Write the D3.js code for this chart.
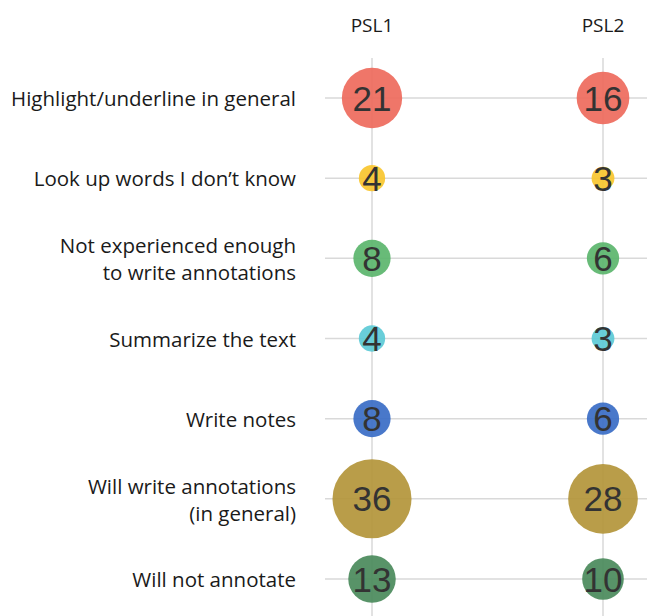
<!DOCTYPE html>
<meta charset="utf-8">
<style>
body { margin: 0; background: #fff; }
.label { font-family: "Open Sans", Lato, sans-serif; font-size: 20.5px; fill: #1a1a1a; }
.head { font-family: "Open Sans", Lato, sans-serif; font-size: 19px; fill: #1a1a1a; }
.num { font-family: "Liberation Sans", Arial, sans-serif; font-size: 35px; fill: #333; }
.grid line { stroke: #d9d9d9; stroke-width: 1.5; }
</style>
<body>
<script src="https://d3js.org/d3.v7.min.js"></script>
<script>

var categories = [
  "Highlight/underline in general",
  "Look up words I don\u2019t know",
  "Not experienced enough\nto write annotations",
  "Summarize the text",
  "Write notes",
  "Will write annotations\n(in general)",
  "Will not annotate"
];
var groups = ["PSL1", "PSL2"];
var psl1 = [21, 4, 8, 4, 8, 36, 13];
var psl2 = [16, 3, 6, 3, 6, 28, 10];
var colors = ["#ee6a5c", "#f8c52e", "#5bb56c", "#5ccad6", "#3a6cc6", "#b3953a", "#4a8a5b"];

var width = 647, height = 616;

var svg = d3.select("body").append("svg")
    .attr("width", width)
    .attr("height", height);

var x = d3.scalePoint()
    .domain(groups)
    .range([372, 603]);

var y = d3.scalePoint()
    .domain(categories)
    .range([98, 579]);

var r = d3.scaleSqrt()
    .domain([0, 36])
    .range([0, 39.5]);

var color = d3.scaleOrdinal()
    .domain(categories)
    .range(colors);

// grid
var grid = svg.append("g").attr("class", "grid");
grid.selectAll(".h")
    .data(categories)
  .enter().append("line")
    .attr("x1", 325).attr("x2", width)
    .attr("y1", function(d) { return y(d); })
    .attr("y2", function(d) { return y(d); });
grid.selectAll(".v")
    .data(groups)
  .enter().append("line")
    .attr("x1", function(d) { return x(d); })
    .attr("x2", function(d) { return x(d); })
    .attr("y1", 58).attr("y2", height);

// headers
svg.selectAll(".head")
    .data(groups)
  .enter().append("text")
    .attr("class", "head")
    .attr("x", function(d) { return x(d); })
    .attr("y", 32)
    .style("text-anchor", "middle")
    .text(function(d) { return d; });

// category labels
var lab = svg.selectAll(".label")
    .data(categories)
  .enter().append("text")
    .attr("class", "label")
    .attr("x", 296)
    .attr("y", function(d) { return y(d); })
    .style("text-anchor", "end");
lab.each(function(d) {
  var lines = d.split("\n");
  var t = d3.select(this);
  lines.forEach(function(l, i) {
    t.append("tspan")
      .attr("x", 296)
      .attr("dy", i == 0 ? (0.4 - (lines.length - 1) * 0.66) + "em" : "1.32em")
      .text(l);
  });
});

// bubbles
var rows = [];
categories.forEach(function(c, i) {
  rows.push({cat: c, group: "PSL1", value: psl1[i]});
  rows.push({cat: c, group: "PSL2", value: psl2[i]});
});

svg.selectAll(".bubble")
    .data(rows)
  .enter().append("circle")
    .attr("class", "bubble")
    .attr("cx", function(d) { return x(d.group); })
    .attr("cy", function(d) { return y(d.cat); })
    .attr("r", function(d) { return r(d.value); })
    .style("fill", function(d) { return color(d.cat); })
    .style("fill-opacity", 0.92);

svg.selectAll(".num")
    .data(rows)
  .enter().append("text")
    .attr("class", "num")
    .attr("x", function(d) { return x(d.group); })
    .attr("y", function(d) { return y(d.cat); })
    .attr("dy", "0.36em")
    .style("text-anchor", "middle")
    .text(function(d) { return d.value; });

</script>
</body>
